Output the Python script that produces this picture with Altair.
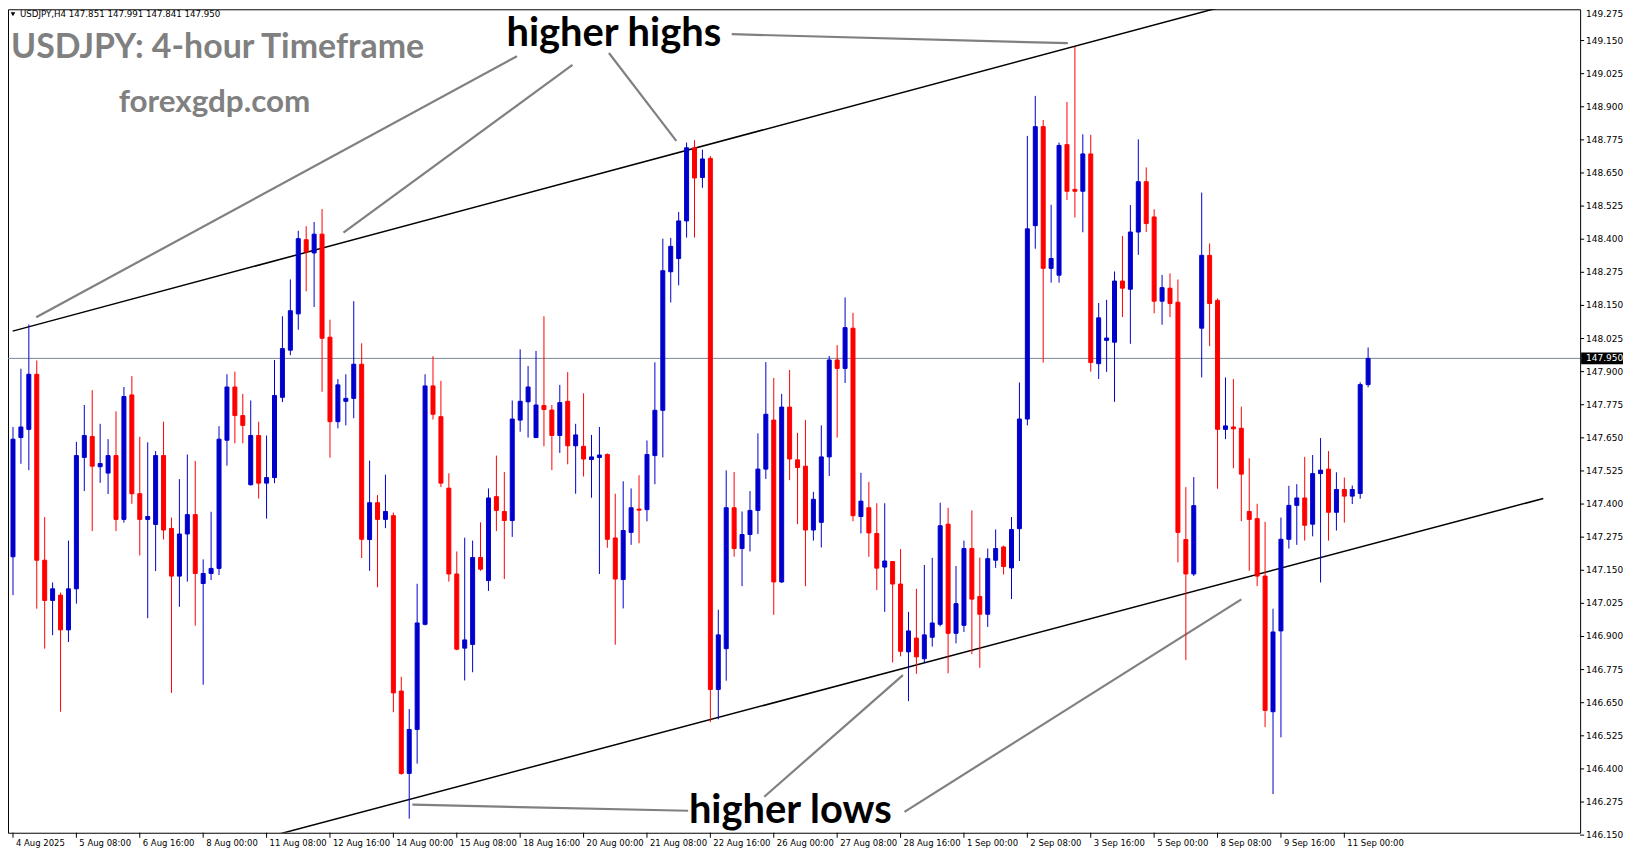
import altair as alt
import pandas as pd

# ---------------- data ----------------
opens = [147.201,147.651,147.682,147.890,147.188,147.036,147.056,146.925,147.080,147.576,
         147.655,147.541,147.517,147.583,147.342,147.812,147.439,147.342,147.323,147.583,
         147.308,147.128,147.287,147.360,147.100,147.138,147.157,147.641,147.842,147.734,
         147.473,147.659,147.479,147.500,147.803,147.981,148.118,148.398,148.348,148.419,
         148.030,147.711,147.788,147.799,147.928,147.266,147.405,147.342,147.356,146.694,
         146.383,146.549,146.946,147.846,147.730,147.460,147.136,146.856,146.870,147.198,
         147.111,147.428,147.372,147.338,147.717,147.786,147.651,147.772,147.755,147.659,
         147.788,147.620,147.618,147.568,147.576,147.587,147.272,147.115,147.293,147.381,
         147.379,147.583,147.754,148.277,148.327,148.469,148.745,148.633,148.705,146.700,
         146.854,147.386,147.232,147.285,147.376,147.532,147.717,147.106,147.766,147.567,
         147.543,147.302,147.331,147.578,147.944,147.912,148.064,147.353,147.386,147.289,
         147.162,147.183,147.098,146.842,146.894,146.816,146.897,146.946,147.324,146.912,
         146.942,147.232,147.051,146.984,147.188,147.238,147.159,147.307,147.721,148.451,
         148.825,148.290,148.264,148.757,148.588,148.581,148.722,147.930,148.018,148.011,
         148.242,148.211,148.427,148.617,148.484,148.166,148.215,148.162,147.266,147.136,
         148.064,148.339,148.169,147.682,147.691,147.686,147.372,147.345,147.128,146.616,
         146.921,147.267,147.395,147.423,147.324,147.515,147.532,147.369,147.455,147.430,
         147.440,147.851]
highs = [147.691,147.911,148.078,147.942,147.351,147.104,147.066,147.262,147.635,147.774,
         147.830,147.703,147.645,147.750,147.842,147.883,147.654,147.633,147.600,147.711,
         147.349,147.494,147.587,147.563,147.191,147.371,147.694,147.890,147.900,147.816,
         147.791,147.711,147.659,147.944,148.109,148.248,148.432,148.449,148.465,148.514,
         148.096,147.872,147.890,148.166,148.007,147.564,147.434,147.511,147.368,146.748,
         146.626,147.099,147.890,147.958,147.865,147.516,147.221,147.273,147.262,147.331,
         147.459,147.583,147.521,147.791,147.984,147.921,147.978,148.109,147.774,147.850,
         147.898,147.703,147.818,147.661,147.691,147.591,147.439,147.486,147.459,147.509,
         147.640,147.935,148.402,148.405,148.503,148.765,148.774,148.738,148.714,147.001,
         147.527,147.521,147.372,147.449,147.667,147.936,147.876,147.816,147.906,147.669,
         147.717,147.446,147.697,147.959,148.000,148.180,148.122,147.518,147.484,147.403,
         147.403,147.185,147.230,146.993,147.080,147.170,147.197,147.405,147.386,147.166,
         147.262,147.376,147.198,147.232,147.304,147.243,147.351,147.859,148.790,148.941,
         148.850,148.530,148.765,148.918,149.127,148.796,148.794,148.159,148.171,148.278,
         148.412,148.529,148.777,148.671,148.513,148.265,148.271,148.248,147.464,147.502,
         148.576,148.384,148.176,147.878,147.872,147.768,147.573,147.401,147.333,147.005,
         147.349,147.469,147.475,147.578,147.585,147.649,147.600,147.520,147.500,147.470,
         147.860,147.991]
lows = [147.056,147.552,147.528,147.005,146.854,146.905,146.616,146.879,147.024,147.449,
        147.298,147.480,147.438,147.298,147.330,147.401,147.206,146.969,147.147,147.266,
        146.687,147.012,147.107,146.941,146.718,147.113,147.132,147.545,147.629,147.629,
        147.470,147.421,147.345,147.479,147.785,147.962,148.058,148.203,148.144,147.824,
        147.575,147.686,147.697,147.724,147.196,147.148,147.086,147.309,146.614,146.378,
        146.212,146.420,146.942,147.719,147.464,147.107,146.848,146.734,146.765,147.148,
        147.072,147.298,147.117,147.276,147.673,147.651,147.651,147.618,147.528,147.593,
        147.550,147.439,147.504,147.424,147.136,147.235,146.869,147.006,147.246,147.252,
        147.335,147.475,147.576,148.161,148.226,148.406,148.406,148.594,146.577,146.587,
        146.733,147.201,147.090,147.221,147.287,147.495,146.982,147.102,147.490,147.324,
        147.090,147.262,147.236,147.506,147.651,147.857,147.335,147.289,147.201,147.075,
        146.993,146.802,146.825,146.656,146.759,146.800,146.862,146.938,146.761,146.874,
        146.917,146.833,146.782,146.936,147.159,147.134,147.041,147.185,147.697,148.364,
        147.934,148.236,148.236,148.548,148.482,148.426,147.900,147.872,147.899,147.786,
        148.106,148.005,148.341,148.427,148.120,148.077,148.106,147.180,146.811,147.128,
        147.878,147.996,147.458,147.645,147.535,147.335,147.148,147.090,146.558,146.305,
        146.519,147.232,147.246,147.262,147.278,147.104,147.262,147.300,147.330,147.400,
        147.420,147.841]
closes = [147.645,147.691,147.890,147.188,147.036,147.080,146.925,147.080,147.583,147.659,
          147.543,147.553,147.583,147.342,147.806,147.439,147.342,147.353,147.583,147.302,
          147.128,147.287,147.360,147.138,147.138,147.157,147.645,147.842,147.734,147.697,
          147.659,147.479,147.500,147.810,147.987,148.130,148.402,148.352,148.419,148.026,
          147.711,147.850,147.799,147.928,147.267,147.405,147.342,147.372,146.687,146.383,
          146.549,146.951,147.846,147.739,147.479,147.136,146.852,146.887,147.198,147.154,
          147.423,147.376,147.338,147.721,147.788,147.842,147.774,147.757,147.659,147.783,
          147.620,147.661,147.570,147.578,147.585,147.267,147.117,147.300,147.386,147.377,
          147.587,147.754,148.281,148.373,148.469,148.745,148.631,148.703,146.700,146.906,
          147.386,147.232,147.285,147.376,147.532,147.739,147.106,147.766,147.570,147.538,
          147.302,147.418,147.578,147.944,147.912,148.066,147.356,147.411,147.291,147.158,
          147.185,147.098,146.844,146.921,146.823,146.906,146.951,147.318,146.912,147.024,
          147.232,147.041,146.984,147.194,147.232,147.164,147.304,147.721,148.439,148.825,
          148.290,148.327,148.754,148.581,148.581,148.722,147.934,148.103,148.027,148.242,
          148.215,148.427,148.617,148.459,148.166,148.217,148.157,147.293,147.136,147.394,
          148.339,148.157,147.682,147.695,147.684,147.513,147.342,147.128,146.621,146.917,
          147.267,147.395,147.423,147.320,147.515,147.528,147.369,147.455,147.430,147.455,
          147.851,147.950]

date_idx = [0, 8, 16, 24, 32, 40, 48, 56, 64, 72, 80, 88, 96, 104, 112, 120, 128, 136, 144, 152, 160, 168]
date_labels = ["4 Aug 2025", "5 Aug 08:00", "6 Aug 16:00", "8 Aug 00:00", "11 Aug 08:00",
               "12 Aug 16:00", "14 Aug 00:00", "15 Aug 08:00", "18 Aug 16:00", "20 Aug 00:00",
               "21 Aug 08:00", "22 Aug 16:00", "26 Aug 00:00", "27 Aug 08:00", "28 Aug 16:00",
               "1 Sep 00:00", "2 Sep 08:00", "3 Sep 16:00", "5 Sep 00:00", "8 Sep 08:00",
               "9 Sep 16:00", "11 Sep 00:00"]

price_labels = ["149.275", "149.150", "149.025", "148.900", "148.775", "148.650", "148.525",
                "148.400", "148.275", "148.150", "148.025", "147.900", "147.775", "147.650",
                "147.525", "147.400", "147.275", "147.150", "147.025", "146.900", "146.775",
                "146.650", "146.525", "146.400", "146.275", "146.150"]

# channel lines (bar index, price)
channel_id = ["upper", "upper", "lower", "lower"]
channel_i = [-0.04, 155.0, 32.3, 193.1]
channel_p = [148.053, 149.297, 146.144, 147.421]

# grey call-out lines (bar index, price)
callout_id = ["a", "a", "b", "b", "c", "c", "d", "d", "e", "e", "f", "f", "g", "g"]
callout_i = [2.93, 63.6, 41.7, 70.6, 75.2, 83.7, 90.7, 133.1, 50.4, 85.2, 94.8, 112.3, 112.5, 155.0]
callout_p = [148.105, 149.091, 148.425, 149.058, 149.103, 148.771, 149.174, 149.140,
             146.265, 146.242, 146.295, 146.754, 146.238, 147.040]

# ---------------- chart ----------------
W, H = 1577, 826
xs = alt.Scale(domain=[0, 197.125], nice=False, zero=False)
ys = alt.Scale(domain=[146.159, 149.268], nice=False, zero=False)
col = alt.Scale(domain=["bull", "bear"], range=["#0000CD", "#FF0000"])
FONT = "DejaVu Sans"

n = len(opens)
df = pd.DataFrame({"i": list(range(n)), "o": opens, "h": highs, "l": lows, "c": closes})
df["dir"] = ["bull" if c >= o else "bear" for o, c in zip(opens, closes)]

X = alt.X("i:Q", scale=xs, axis=None)

wick = alt.Chart(df).mark_rule(strokeWidth=1, clip=True).encode(
    x=X,
    y=alt.Y("l:Q", scale=ys, axis=None),
    y2="h:Q",
    color=alt.Color("dir:N", scale=col, legend=None),
)
body = alt.Chart(df).mark_bar(size=4, strokeWidth=1, clip=True).encode(
    x=X,
    y=alt.Y("o:Q", scale=ys, axis=None),
    y2="c:Q",
    color=alt.Color("dir:N", scale=col, legend=None),
    stroke=alt.Stroke("dir:N", scale=col, legend=None),
)

ch_df = pd.DataFrame({"id": channel_id, "i": channel_i, "p": channel_p})
channel = alt.Chart(ch_df).mark_line(color="black", strokeWidth=1.5, clip=True).encode(
    x=alt.X("i:Q", scale=xs, axis=None),
    y=alt.Y("p:Q", scale=ys, axis=None),
    detail="id:N",
)

co_df = pd.DataFrame({"id": callout_id, "i": callout_i, "p": callout_p})
callouts = alt.Chart(co_df).mark_line(color="#808080", strokeWidth=2.2, clip=True).encode(
    x=alt.X("i:Q", scale=xs, axis=None),
    y=alt.Y("p:Q", scale=ys, axis=None),
    detail="id:N",
)

last_df = pd.DataFrame({"p": [closes[-1]], "lbl": [f"{closes[-1]:.3f}"]})
last_line = alt.Chart(last_df).mark_rule(color="#778899", strokeWidth=1).encode(
    y=alt.Y("p:Q", scale=ys, axis=None)
)

# right price axis
pt_df = pd.DataFrame({"p": [float(s) for s in price_labels], "lbl": price_labels})
p_ticks = alt.Chart(pt_df).mark_rule(color="black", strokeWidth=1).encode(
    y=alt.Y("p:Q", scale=ys, axis=None), x=alt.value(W), x2=alt.value(W + 4)
)
p_text = alt.Chart(pt_df).transform_filter(alt.datum.p < 149.2).mark_text(
    align="left", baseline="middle", font=FONT, fontSize=9, color="black").encode(
    y=alt.Y("p:Q", scale=ys, axis=None), x=alt.value(W + 6), text="lbl:N"
)
p_text_top = alt.Chart(pt_df).transform_filter(alt.datum.p > 149.2).mark_text(
    align="left", baseline="middle", font=FONT, fontSize=9, color="black", dy=7).encode(
    y=alt.Y("p:Q", scale=ys, axis=None), x=alt.value(W + 6), text="lbl:N"
)
last_box = alt.Chart(last_df).mark_rule(color="black", strokeWidth=12, strokeCap="butt").encode(
    y=alt.Y("p:Q", scale=ys, axis=None), x=alt.value(W + 1), x2=alt.value(W + 43)
)
last_text = alt.Chart(last_df).mark_text(align="left", baseline="middle", font=FONT,
                                         fontSize=9, color="white").encode(
    y=alt.Y("p:Q", scale=ys, axis=None), x=alt.value(W + 6), text="lbl:N"
)

# bottom time axis
dt_df = pd.DataFrame({"i": date_idx, "lbl": date_labels})
d_ticks = alt.Chart(dt_df).mark_rule(color="black", strokeWidth=1).encode(
    x=alt.X("i:Q", scale=xs, axis=None), y=alt.value(H), y2=alt.value(H + 5)
)
d_text = alt.Chart(dt_df).mark_text(align="left", baseline="middle", font=FONT,
                                    fontSize=8.5, color="black", dx=3).encode(
    x=alt.X("i:Q", scale=xs, axis=None), y=alt.value(H + 10), text="lbl:N"
)

one = pd.DataFrame({"k": [0]})
header = f"USDJPY,H4  {opens[-1]:.3f} {highs[-1]:.3f} {lows[-1]:.3f} {closes[-1]:.3f}"
hdr_tri = alt.Chart(one).mark_point(shape="triangle-down", filled=True, color="black",
                                    size=22, opacity=1).encode(x=alt.value(5), y=alt.value(5))
hdr_txt = alt.Chart(one).mark_text(text=header, align="left", baseline="middle", font=FONT,
                                   fontSize=8.7, color="black").encode(x=alt.value(12), y=alt.value(5))

title_txt = alt.Chart(one).mark_text(text="USDJPY: 4-hour Timeframe", align="left",
                                     baseline="middle", font="Lato", fontWeight="bold",
                                     fontSize=34, color="#808080").encode(
    x=alt.value(3), y=alt.value(39))
site_txt = alt.Chart(one).mark_text(text="forexgdp.com", align="left", baseline="middle",
                                    font="Lato", fontWeight="bold", fontSize=31.5,
                                    color="#808080").encode(x=alt.value(111), y=alt.value(94))
hh_txt = alt.Chart(one).mark_text(text="higher highs", align="left", baseline="middle",
                                  font="Lato", fontWeight="bold", fontSize=40,
                                  color="black").encode(x=alt.value(500), y=alt.value(25))
hl_txt = alt.Chart(one).mark_text(text="higher lows", align="left", baseline="middle",
                                  font="Lato", fontWeight="bold", fontSize=40,
                                  color="black").encode(x=alt.value(683), y=alt.value(804))

chart = alt.layer(
    last_line, channel, callouts, wick, body,
    p_ticks, p_text, p_text_top, last_box, last_text, d_ticks, d_text,
    hdr_tri, hdr_txt, title_txt, site_txt, hh_txt, hl_txt,
).properties(
    width=W, height=H,
    padding={"left": 0, "top": 0, "right": 43, "bottom": 14},
    autosize=alt.AutoSizeParams(type="none"),
    background="white",
).configure_view(stroke="black", strokeWidth=1)

chart.save("out.html", embed_options={"renderer": "svg", "actions": False})
